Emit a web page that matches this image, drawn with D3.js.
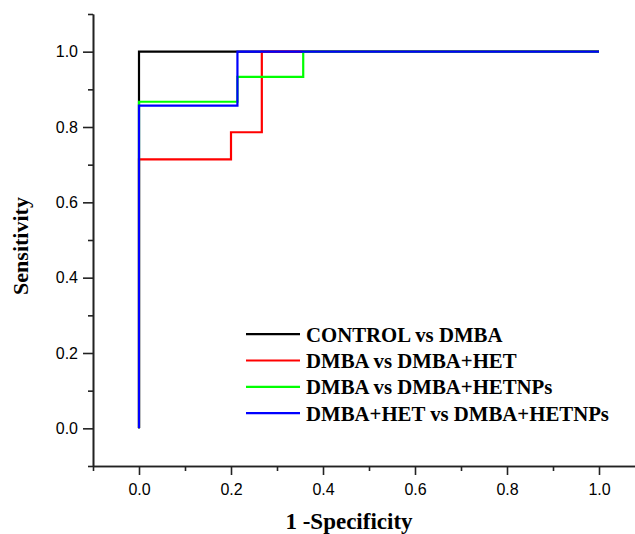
<!DOCTYPE html>
<html><head><meta charset="utf-8">
<script src="https://cdn.jsdelivr.net/npm/d3@7"></script>
<style>
html,body{margin:0;padding:0;background:#fff;overflow:hidden;}
svg{display:block;}
.tick text{font-family:"Liberation Sans",Arial,sans-serif;font-size:16px;fill:#000;}
</style></head>
<body>
<svg id="chart" width="635" height="534"></svg>
<script>
// ---- data ----
const seriesNames = ["CONTROL vs DMBA", "DMBA vs DMBA+HET", "DMBA vs DMBA+HETNPs", "DMBA+HET vs DMBA+HETNPs"];
const seriesColors = ["#000000", "#ff0000", "#00ff00", "#0000ff"];
const fprControl = [0, 0, 0.214, 1];
const tprControl = [0, 1, 1, 1];
const fprHet = [0, 0, 0.2, 0.2, 0.267, 0.267, 1];
const tprHet = [0, 0.714, 0.714, 0.786, 0.786, 1, 1];
const fprHetnps = [0, 0, 0.214, 0.214, 0.357, 0.357, 1];
const tprHetnps = [0, 0.867, 0.867, 0.933, 0.933, 1, 1];
const fprHetVsNps = [0, 0, 0.214, 0.214, 1];
const tprHetVsNps = [0, 0.857, 0.857, 1, 1];
const majorTicks = [0, 0.2, 0.4, 0.6, 0.8, 1.0];
const majorTickLabels = ["0.0", "0.2", "0.4", "0.6", "0.8", "1.0"];
const minorTicks = [-0.1, 0.1, 0.3, 0.5, 0.7, 0.9, 1.1];
const xTitle = "1 -Specificity";
const yTitle = "Sensitivity";

const series = [
  {fpr: fprControl, tpr: tprControl},
  {fpr: fprHet, tpr: tprHet},
  {fpr: fprHetnps, tpr: tprHetnps},
  {fpr: fprHetVsNps, tpr: tprHetVsNps}
];

const svg = d3.select("#chart");
const x = d3.scaleLinear().domain([-0.1, 1.1]).range([93, 645]);
const y = d3.scaleLinear().domain([-0.1, 1.1]).range([466, 14]);
const fmt = (d) => majorTickLabels[majorTicks.indexOf(d)];

// axes: minor ticks
const axStroke = "#222";
svg.append("g").attr("transform", "translate(0,466)")
  .call(d3.axisBottom(x).tickValues(minorTicks).tickSize(5).tickSizeOuter(0).tickFormat(""));
svg.append("g").attr("transform", "translate(93,0)")
  .call(d3.axisLeft(y).tickValues(minorTicks).tickSize(5).tickSizeOuter(0).tickFormat(""));
// major
svg.append("g").attr("transform", "translate(0,466)")
  .call(d3.axisBottom(x).tickValues(majorTicks).tickSize(9).tickSizeOuter(0).tickPadding(5).tickFormat(fmt))
  .call(g => g.selectAll("text").attr("dy", "0.95em"));
svg.append("g").attr("transform", "translate(93,0)")
  .call(d3.axisLeft(y).tickValues(majorTicks).tickSize(10).tickSizeOuter(0).tickPadding(5).tickFormat(fmt));
svg.selectAll(".domain, .tick line").attr("stroke", axStroke).attr("stroke-width", 1.6);

// lines
const line = d3.line().x(d => x(d[0])).y(d => y(d[1]));
series.forEach((s, i) => {
  const pts = s.fpr.map((f, j) => [f, s.tpr[j]]);
  svg.append("path").datum(pts).attr("d", line)
    .attr("fill", "none").attr("stroke", seriesColors[i]).attr("stroke-width", 2.2)
    .attr("stroke-linejoin", "miter");
});

// legend
const lg = svg.append("g");
seriesNames.forEach((name, i) => {
  const by = 341.7 + i * 26.3;
  lg.append("line").attr("x1", 246).attr("x2", 300).attr("y1", by - 7.5).attr("y2", by - 7.5)
    .attr("stroke", seriesColors[i]).attr("stroke-width", 2.2);
  lg.append("text").attr("x", 306).attr("y", by).text(name)
    .attr("font-family", "'Liberation Serif','Times New Roman',serif")
    .attr("font-weight", "bold").attr("font-size", 20.8).attr("fill", "#000");
});

// titles
svg.append("text").attr("x", 349).attr("y", 529).attr("text-anchor", "middle")
  .attr("font-family", "'Liberation Serif','Times New Roman',serif").attr("font-weight", "bold")
  .attr("font-size", 23).text(xTitle);
svg.append("text").attr("transform", "translate(28,246) rotate(-90)").attr("text-anchor", "middle")
  .attr("font-family", "'Liberation Serif','Times New Roman',serif").attr("font-weight", "bold")
  .attr("font-size", 22).text(yTitle);
</script>
</body></html>
